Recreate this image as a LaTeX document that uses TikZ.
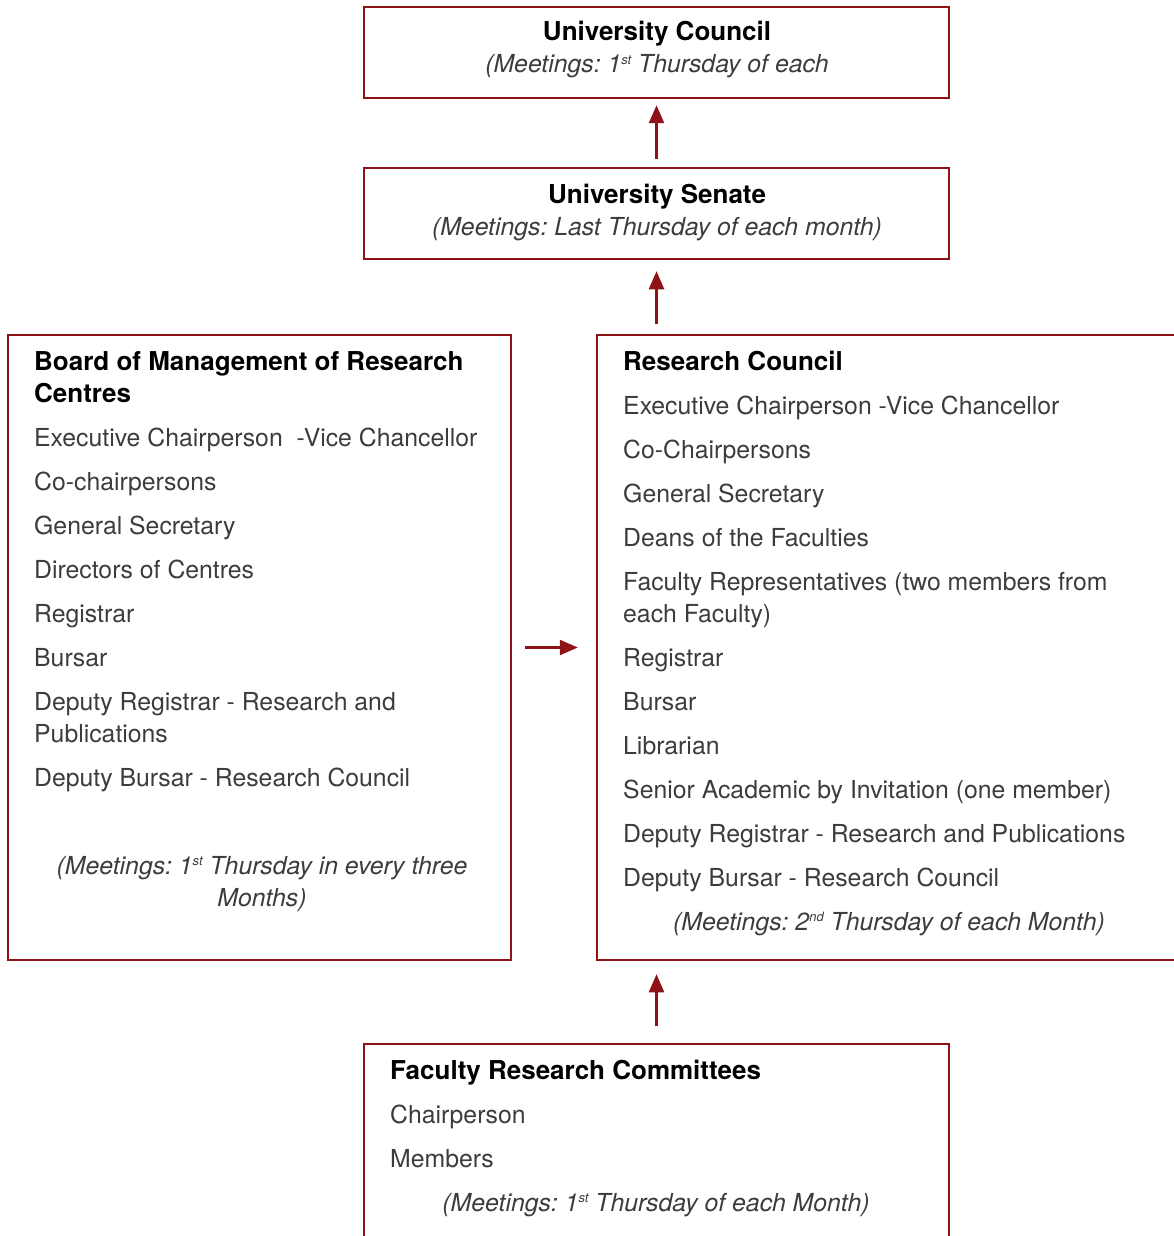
\documentclass[tikz,border=0pt]{standalone}
\usepackage{fontspec}
\setmainfont{TeX Gyre Heros}
\usetikzlibrary{arrows.meta}
\frenchspacing
\definecolor{boxred}{RGB}{142,18,22}
\definecolor{txtgray}{RGB}{60,60,60}
\newcommand{\supx}[1]{\raisebox{0.62ex}{\fontsize{13}{13}\selectfont #1}}
\tikzset{
  box/.style={draw=boxred, line width=2.5pt, rectangle, inner sep=0pt},
  ttl/.style={anchor=base west, inner sep=0pt, font=\fontsize{26}{30}\selectfont\bfseries, text=black},
  ttlc/.style={anchor=base, inner sep=0pt, font=\fontsize{26}{30}\selectfont\bfseries, text=black},
  itm/.style={anchor=base west, inner sep=0pt, font=\fontsize{24.8}{30}\selectfont, text=txtgray},
  mtg/.style={anchor=base, inner sep=0pt, font=\fontsize{24.8}{30}\selectfont\itshape, text=txtgray},
  arr/.style={draw=boxred, line width=2.5pt, -{Triangle[length=18pt,width=15pt]}},
}
\begin{document}
\begin{tikzpicture}[x=1pt,y=-1pt]
\useasboundingbox (0,0) rectangle (1173,1236);
% boxes
\node[box, minimum width=585pt, minimum height=91pt] (uc) at (656.5,52.5) {};
\node[box, minimum width=585pt, minimum height=91pt] (us) at (656.5,213.5) {};
\node[box, minimum width=503pt, minimum height=625pt] (bm) at (259.5,647.5) {};
\node[box, minimum width=640pt, minimum height=625pt] (rc) at (917,647.5) {};
\node[box, minimum width=585pt, minimum height=260pt] (fr) at (656.5,1174) {};
% University Council
\node[ttlc] (uct) at (657,41) {University Council};
\node[mtg] (ucm) at (657,73) {(Meetings: 1\supx{st} Thursday of each};
% Senate
\node[ttlc] (ust) at (657,203) {University Senate};
\node[mtg] (usm) at (657,235) {(Meetings: Last Thursday of each month)};
% Board
\node[ttl] (b0) at (34,370) {Board of Management of Research};
\node[ttl] (b0b) at (34,402) {Centres};
\node[itm] (b1) at (34,446) {Executive Chairperson\ \ -Vice Chancellor};
\node[itm] (b2) at (34,490) {Co-chairpersons};
\node[itm] (b3) at (34,534) {General Secretary};
\node[itm] (b4) at (34,578) {Directors of Centres};
\node[itm] (b5) at (34,622) {Registrar};
\node[itm] (b6) at (34,666) {Bursar};
\node[itm] (b7) at (34,710) {Deputy Registrar - Research and};
\node[itm] (b7b) at (34,742) {Publications};
\node[itm] (b8) at (34,786) {Deputy Bursar - Research Council};
\node[mtg] (bm1) at (262,874) {(Meetings: 1\supx{st} Thursday in every three};
\node[mtg] (bm2) at (262,906) {Months)};
% Research Council
\node[ttl] (r0) at (623,370) {Research Council};
\node[itm] (r1) at (623,414) {Executive Chairperson -Vice Chancellor};
\node[itm] (r2) at (623,458) {Co-Chairpersons};
\node[itm] (r3) at (623,502) {General Secretary};
\node[itm] (r4) at (623,546) {Deans of the Faculties};
\node[itm] (r5) at (623,590) {Faculty Representatives (two members from};
\node[itm] (r5b) at (623,622) {each Faculty)};
\node[itm] (r6) at (623,666) {Registrar};
\node[itm] (r7) at (623,710) {Bursar};
\node[itm] (r8) at (623,754) {Librarian};
\node[itm] (r9) at (623,798) {Senior Academic by Invitation (one member)};
\node[itm] (r10) at (623,842) {Deputy Registrar - Research and Publications};
\node[itm] (r11) at (623,886) {Deputy Bursar - Research Council};
\node[mtg] (rm) at (889,930) {(Meetings: 2\supx{nd} Thursday of each Month)};
% Faculty Research Committees
\node[ttl] (f0) at (390,1079) {Faculty Research Committees};
\node[itm] (f1) at (390,1123) {Chairperson};
\node[itm] (f2) at (390,1167) {Members};
\node[mtg] (fm) at (656,1211) {(Meetings: 1\supx{st} Thursday of each Month)};
% arrows
\coordinate (rcTop) at (us.south |- rc.north);
\coordinate (rcBot) at (fr.north |- rc.south);
\draw[arr] ([yshift=8pt]us.north) -- ([yshift=-6pt]uc.south);
\draw[arr] ([yshift=10pt]rcTop) -- ([yshift=-11pt]us.south);
\draw[arr] ([yshift=17pt]fr.north) -- ([yshift=-13pt]rcBot);
\draw[arr] ([xshift=13pt]bm.east) -- ([xshift=-18pt]rc.west);
\end{tikzpicture}
\end{document}
